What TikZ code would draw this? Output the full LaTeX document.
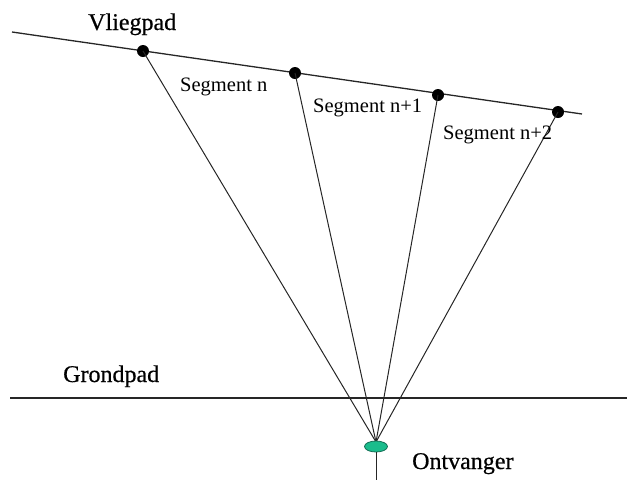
\documentclass[tikz,border=0pt]{standalone}
\usepackage{fontspec}
\setmainfont{Liberation Serif}
\newfontfamily\heavyserif[FakeBold=0.6]{Liberation Serif}
\usetikzlibrary{shapes.geometric}
\definecolor{recv}{RGB}{26,188,140}
\definecolor{recvline}{RGB}{20,110,85}
\begin{document}
\begin{tikzpicture}[x=1pt,y=-1pt,
  ray/.style={draw=black!85,line width=1pt},
  pathline/.style={draw=black!85,line width=1.3pt},
  pt/.style={circle,fill=black,inner sep=0pt,minimum size=12pt},
  seglabel/.style={anchor=base west,inner sep=0pt,font=\fontsize{20.5}{22}\selectfont},
  biglabel/.style={anchor=base west,inner sep=0pt,font=\heavyserif\fontsize{24}{26}\selectfont}]
\useasboundingbox (0,0) rectangle (627,480);
\coordinate (fs) at (12,32);
\coordinate (fe) at (582,114);
\coordinate (gs) at (10,398);
\coordinate (ge) at (627,398);
\coordinate (c) at (376,442);
\coordinate (stemend) at (376,480);
\draw[pathline] (fs) -- (fe);
\draw[pathline] (gs) -- (ge);
\node[pt] (p1) at (143,51) {};
\node[pt] (p2) at (295,73) {};
\node[pt] (p3) at (438,95) {};
\node[pt] (p4) at (558,112) {};
\draw[ray] (p1.center) -- (c);
\draw[ray] (p2.center) -- (c);
\draw[ray] (p3.center) -- (c);
\draw[ray] (p4.center) -- (c);
\node[ellipse,draw=recvline,fill=recv,line width=0.8pt,minimum width=23pt,minimum height=11pt,inner sep=0pt] (rx) at (376,446.5) {};
\draw[ray] (rx.south) -- (stemend);
\node[biglabel] (lv) at (88,30) {Vliegpad};
\node[seglabel] (l1) at (180,91) {Segment n};
\node[seglabel] (l2) at (313,112) {Segment n+1};
\node[seglabel] (l3) at (443,139) {Segment n+2};
\node[biglabel] (lg) at (63,382) {Grondpad};
\node[biglabel] (lo) at (412,469) {Ontvanger};
\end{tikzpicture}
\end{document}
